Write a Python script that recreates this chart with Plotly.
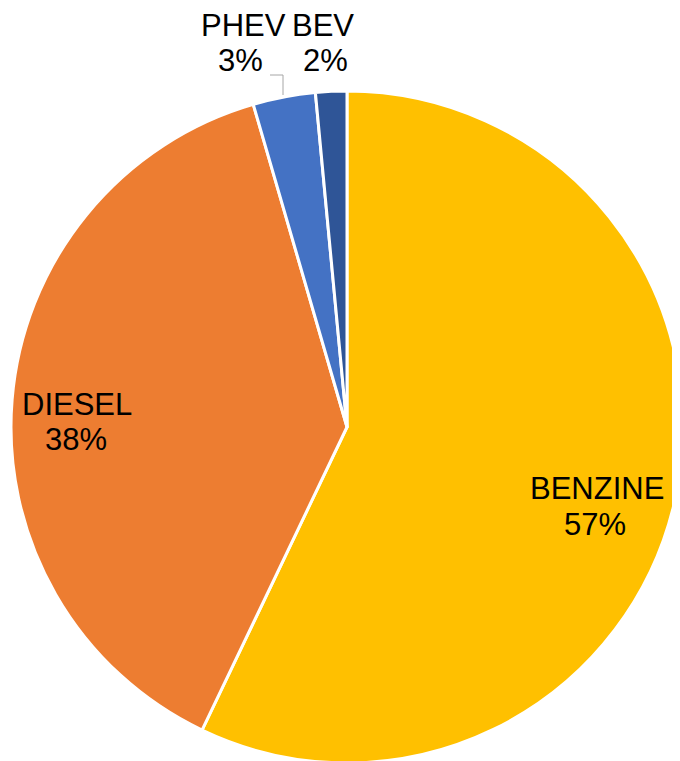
import plotly.graph_objects as go

# Datos del gráfico (cuota por tipo de combustible)
fuels = ["BENZINE", "DIESEL", "PHEV", "BEV"]
shares = [57.1, 38.4, 3.0, 1.5]
share_labels = ["57%", "38%", "3%", "2%"]
colors = ["#FFC000", "#ED7D31", "#4472C4", "#2F5597"]

W, H = 680, 761
OFF = 8  # margen del <body> de la página
_FONT = "Liberation Sans, Arial, sans-serif"

# centro y radio del pastel en px de pantalla
cx, cy, r = 347, 427, 336


def px(x):
    return (x - OFF) / W


def py(y):
    return 1 - (y - OFF) / H


fig = go.Figure(
    go.Pie(
        labels=fuels,
        values=shares,
        sort=False,
        direction="clockwise",
        rotation=0,
        marker=dict(colors=colors, line=dict(color="white", width=3)),
        textinfo="none",
        hoverinfo="label+percent",
        showlegend=False,
        domain=dict(x=[px(cx - r), px(cx + r)], y=[py(cy + r), py(cy - r)]),
    )
)

# posiciones de etiquetas (px de pantalla): (x nombre, x %, y línea 1, y línea 2)
label_pos = [(597, 595, 489, 524), (77, 76, 404, 439), (243, 240, 26, 61), (323, 325, 26, 61)]
for name, txt, (x1, x2, y1, y2) in zip(fuels, share_labels, label_pos):
    for t, lx, ly in ((name, x1, y1), (txt, x2, y2)):
        fig.add_annotation(
            text=t,
            x=px(lx), y=py(ly),
            xref="paper", yref="paper",
            xanchor="center", yanchor="middle",
            showarrow=False,
            font=dict(family=_FONT, size=31, color="black"),
        )

# línea guía de PHEV
fig.add_shape(
    type="path",
    path=f"M {px(270)} {py(75)} L {px(283)} {py(75)} L {px(283)} {py(95)}",
    xref="paper", yref="paper",
    line=dict(color="#A6A6A6", width=1),
)

fig.update_layout(
    width=W, height=H,
    autosize=False,
    margin=dict(l=0, r=0, t=0, b=0),
    paper_bgcolor="white",
    plot_bgcolor="white",
)

fig.write_html("out.html")
